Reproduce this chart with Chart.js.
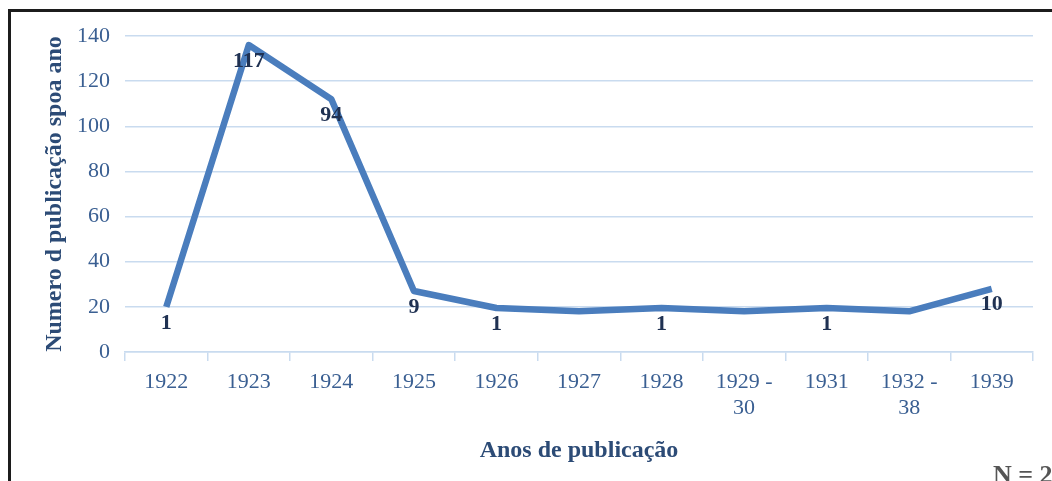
<!DOCTYPE html>
<html>
<head>
<meta charset="utf-8">
<script src="https://cdn.jsdelivr.net/npm/chart.js@4.4.1/dist/chart.umd.min.js"></script>
<style>
  html, body { margin: 0; padding: 0; background: #ffffff; overflow: hidden; }
  #wrap { position: relative; width: 1052px; height: 481px; }
  #frame {
    position: absolute; left: 8px; top: 9px; width: 1200px; height: 600px;
    border-left: 3px solid #1c1c1c; border-top: 3px solid #1c1c1c;
    pointer-events: none;
  }
</style>
</head>
<body>
<div id="wrap">
  <canvas id="chart" width="1052" height="481"></canvas>
  <div id="frame"></div>
</div>
<script>
// ── Dados ───────────────────────────────────────────────────
const anos = ['1922', '1923', '1924', '1925', '1926', '1927', '1928',
              ['1929 -', '30'], '1931', ['1932 -', '38'], '1939'];
const valoresLinha = [20, 136, 112, 27, 19.5, 18, 19.5, 18, 19.5, 18, 28];
const rotulos = ['1', '117', '94', '9', '1', '', '1', '', '1', '', '10'];
const nTotal = 'N = 234';

// ── Cores e fontes ──────────────────────────────────────────
const SERIF = "'Liberation Serif', 'DejaVu Serif', serif";
const COR_LINHA = '#4a7dbd';
const COR_GRADE = '#c9dbef';
const COR_TICK = '#3a5f92';
const COR_TITULO = '#2c4b76';

// rótulos de dados abaixo de cada ponto + nota "N ="
const rotulosPlugin = {
    id: 'rotulos',
    afterDatasetsDraw(chart) {
        const ctx = chart.ctx;
        const meta = chart.getDatasetMeta(0);
        ctx.save();
        ctx.font = "bold 22px " + SERIF;
        ctx.fillStyle = '#1f3152';
        ctx.textAlign = 'center';
        ctx.textBaseline = 'middle';
        meta.data.forEach((pt, i) => {
            if (!rotulos[i]) return;
            ctx.fillText(rotulos[i], pt.x, pt.y + 16);
        });
        ctx.restore();
    },
    afterDraw(chart) {
        const ctx = chart.ctx;
        ctx.save();
        ctx.font = "bold 26px " + SERIF;
        ctx.fillStyle = '#555555';
        ctx.textAlign = 'left';
        ctx.textBaseline = 'top';
        ctx.fillText(nTotal, 993, 463);
        ctx.restore();
    }
};

new Chart(document.getElementById('chart'), {
    type: 'line',
    data: {
        labels: anos,
        datasets: [{
            data: valoresLinha,
            borderColor: COR_LINHA,
            borderWidth: 6.5,
            pointRadius: 0,
            tension: 0,
            fill: false,
            borderJoinStyle: 'round',
        }],
    },
    options: {
        responsive: false,
        animation: false,
        layout: { padding: { left: 36, right: 19, top: 36, bottom: 12 } },
        plugins: {
            legend: { display: false },
            tooltip: { enabled: false },
        },
        scales: {
            x: {
                offset: true,
                grid: {
                    offset: true,
                    drawOnChartArea: false,
                    drawTicks: true,
                    tickLength: 9,
                    color: COR_GRADE,
                    lineWidth: 1.5,
                },
                border: { display: true, color: COR_GRADE, width: 1.5 },
                ticks: {
                    color: COR_TICK,
                    font: { family: SERIF, size: 22, lineHeight: 1.15 },
                    padding: 9,
                    maxRotation: 0,
                    autoSkip: false,
                },
                title: {
                    display: true,
                    text: 'Anos de publicação',
                    color: COR_TITULO,
                    font: { family: SERIF, size: 24, weight: 'bold' },
                },
                afterFit(scale) { scale.height = 117; },
            },
            y: {
                min: 0,
                max: 140,
                ticks: {
                    stepSize: 20,
                    color: COR_TICK,
                    font: { family: SERIF, size: 22 },
                    padding: 15,
                },
                grid: { color: COR_GRADE, lineWidth: 1.5, drawTicks: false },
                border: { display: false },
                title: {
                    display: true,
                    text: 'Numero d publicação spoa ano',
                    color: COR_TITULO,
                    font: { family: SERIF, size: 24, weight: 'bold' },
                },
                afterFit(scale) { scale.width = 89; },
            },
        },
    },
    plugins: [rotulosPlugin],
});
</script>
</body>
</html>
